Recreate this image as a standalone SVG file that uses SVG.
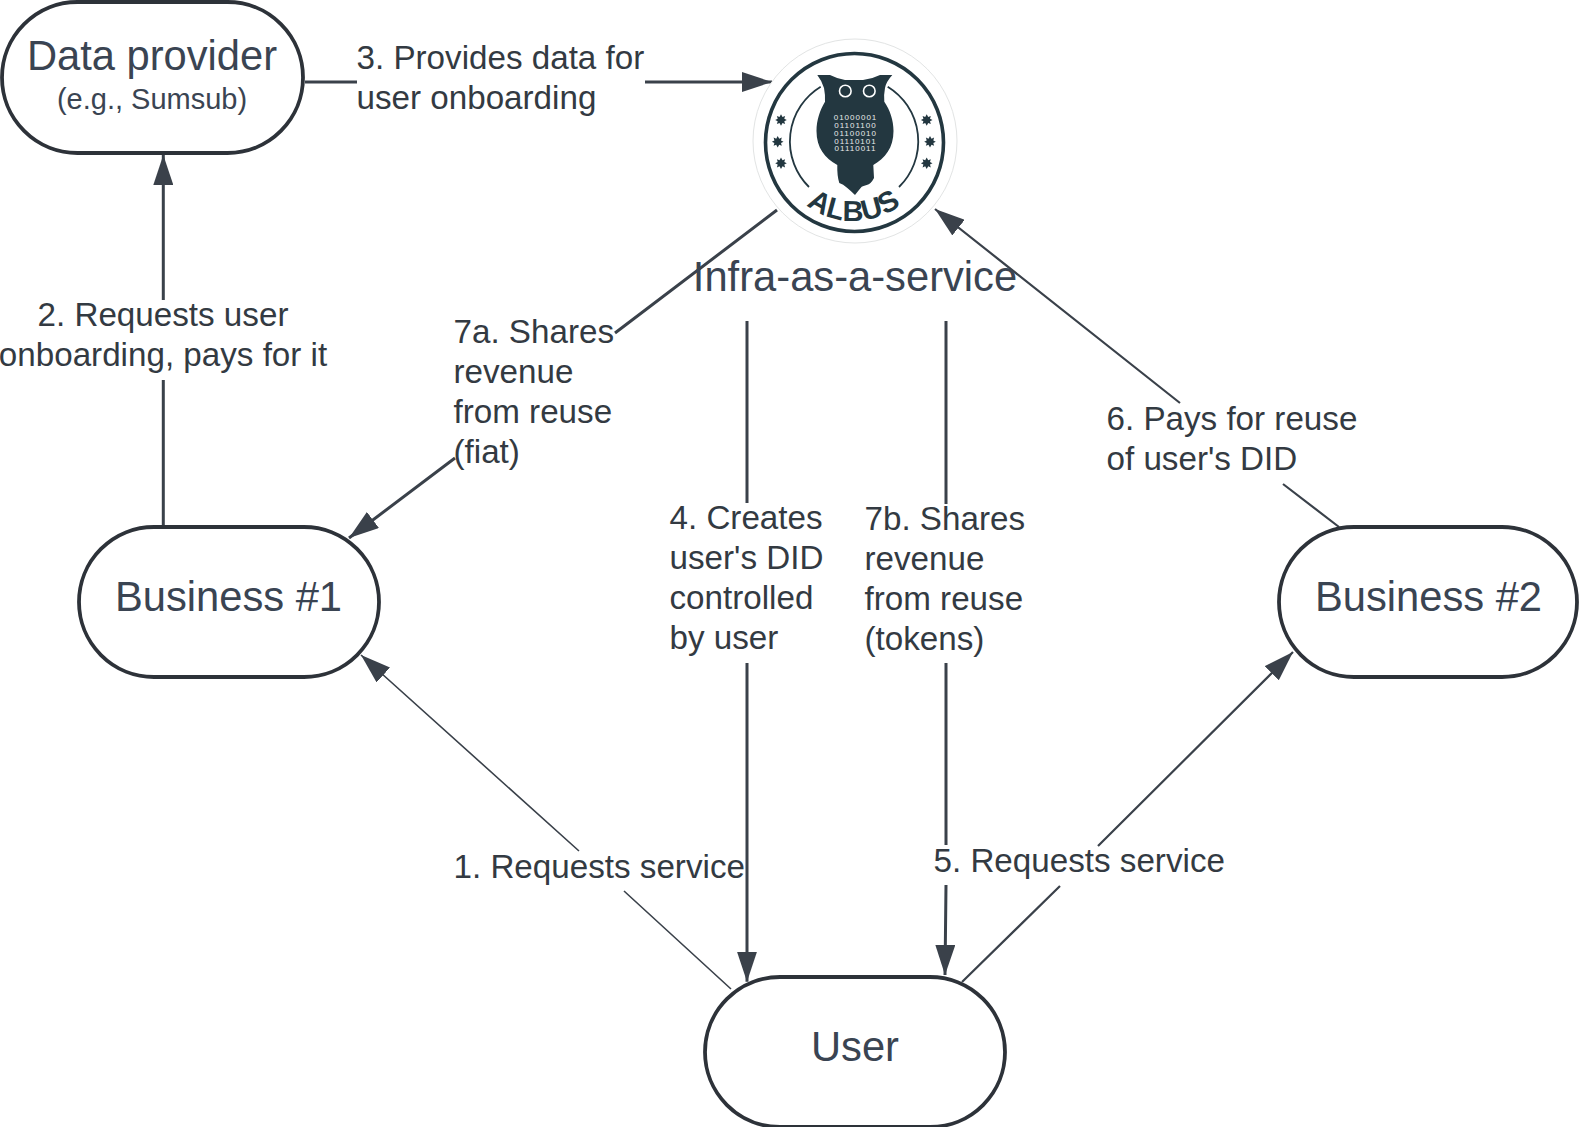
<svg xmlns="http://www.w3.org/2000/svg" width="1579" height="1127" viewBox="0 0 1579 1127">
<style>
text{font-family:"Liberation Sans",Arial,sans-serif;fill:#333a42}
.n{fill:#fff;stroke:#2d3239;stroke-width:3.8}
.t{font-size:41.7px;text-anchor:middle;fill:#3a4452}
.l{font-size:33.2px}
.c{fill:none;stroke:#3a414a;stroke-width:3;marker-end:url(#a)}
.f{fill:none;stroke:#3a414a;stroke-width:1.6;marker-end:url(#a)}
.g{fill:none;stroke:#3a414a;stroke-width:2.2;marker-end:url(#a)}
.lg{fill:#233740}
.bin{font-family:"Liberation Sans",Arial,sans-serif;font-size:8px;letter-spacing:1px;text-anchor:middle}
</style>
<defs>
<marker id="a" markerUnits="userSpaceOnUse" viewBox="0 0 30 20" refX="30" refY="10" markerWidth="30" markerHeight="20" orient="auto"><path d="M0 0L30 10L0 20Z" fill="#3a414a"/></marker>
<path id="s" d="M0-5.8L1.5-3 4.1-4.1 3.3-1.2 5.8 0 3.3 1.2 4.1 4.1 1.5 3 0 5.8-1.5 3-4.1 4.1-3.3 1.2-5.8 0-3.3-1.2-4.1-4.1-1.5-3Z" class="lg"/>
<path id="b" d="M780.7 169.7A78 78 0 0 0 927.3 169.7" fill="none"/>
</defs>
<rect width="1579" height="1127" fill="#fff"/>
<g id="connectors">
<path class="f" d="M731 989L624 891M579 851L361 655"/>
<path class="c" d="M163.3 527V380M163.3 300V155"/>
<path class="c" d="M305 82H357M645 82H772"/>
<path class="c" d="M747 321V503M747 663V981.7"/>
<path class="c" d="M946 321V504M946 663V845M946 885L945 975"/>
<path class="g" d="M962 982L1060 886M1098 846L1293 652"/>
<path class="g" d="M1339 527L1283 484M1180 403L935 209"/>
<path class="c" d="M777 210L615 333M455 458L349 538"/>
</g>
<g id="data-provider"><rect class="n" x="2" y="2" width="301" height="151" rx="75.5"/><text class="t" x="152" y="70">Data provider</text><text x="152" y="109" font-size="29" text-anchor="middle" style="fill:#3a4452">(e.g., Sumsub)</text></g>
<g id="business-1"><rect class="n" x="79" y="527" width="300" height="150" rx="75"/><text class="t" x="228.5" y="611">Business #1</text></g>
<g id="business-2"><rect class="n" x="1279" y="527" width="298" height="150" rx="75"/><text class="t" x="1428.5" y="611">Business #2</text></g>
<g id="user"><rect class="n" x="705" y="977" width="300" height="150" rx="75"/><text class="t" x="855" y="1061">User</text></g>
<g id="albus">
<circle cx="855" cy="141" r="102" fill="#fff" stroke="#e2e4e4" stroke-width="1"/>
<circle cx="854.5" cy="142.5" r="89" fill="none" stroke="#233740" stroke-width="3.6"/>
<path d="M820.7 86.7A64 64 0 0 0 809 187M887.7 86.7A64 64 0 0 1 899 187" fill="none" stroke="#233740" stroke-width="1.8"/>
<use href="#s" x="781" y="120"/><use href="#s" x="777.7" y="141.7"/><use href="#s" x="781" y="163.3"/><use href="#s" x="926.7" y="120"/><use href="#s" x="930" y="141.7"/><use href="#s" x="926.7" y="163.3"/>
<path class="lg" d="M817.3 75L830 75Q838 79 845 80H863Q872 79 880 75L892.3 75Q886 82 885 88Q883.500 96 884.300 101.700C890 110 893.500 120 893.500 131C893.500 148 885 158 873.300 165L874 178Q871 184 866.700 185Q863 186 861.700 186.700Q858 191 855 195Q851 191 847.300 188Q843 184 839.300 183Q837 176 837.300 165C825 158 816.500 148 816.500 131C816.500 120 820 110 825 101.700Q825.500 96 824 88Q822 81 817.300 75Z"/>
<circle cx="845.3" cy="91" r="5.8" class="lg" stroke="#fff" stroke-width="1.6"/><circle cx="869.3" cy="91" r="5.8" class="lg" stroke="#fff" stroke-width="1.6"/>
<text class="bin" x="855.5" y="119.7" style="fill:#e8eaea">01000001</text><text class="bin" x="855.5" y="127.7" style="fill:#e8eaea">01101100</text><text class="bin" x="855.5" y="135.7" style="fill:#e8eaea">01100010</text><text class="bin" x="855.5" y="143.7" style="fill:#e8eaea">01110101</text><text class="bin" x="855.5" y="151.3" style="fill:#e8eaea">01110011</text>
<text style="font-size:29px;font-weight:bold;letter-spacing:.5px;fill:#233740;text-anchor:middle"><textPath href="#b" startOffset="50%">ALBUS</textPath></text>
</g>
<g id="labels">
<text class="t" x="855" y="291">Infra-as-a-service</text>
<text class="l" x="356.500" y="69">3. Provides data for</text><text class="l" x="356.500" y="109">user onboarding</text>
<text class="l" x="163" y="326" text-anchor="middle">2. Requests user</text><text class="l" x="163" y="366" text-anchor="middle">onboarding, pays for it</text>
<text class="l" x="453.500" y="343">7a. Shares</text><text class="l" x="453.500" y="383">revenue</text><text class="l" x="453.500" y="423">from reuse</text><text class="l" x="453.500" y="462.500">(fiat)</text>
<text class="l" x="669.500" y="529">4. Creates</text><text class="l" x="669.500" y="569">user's DID</text><text class="l" x="669.500" y="609">controlled</text><text class="l" x="669.500" y="649">by user</text>
<text class="l" x="864.500" y="530">7b. Shares</text><text class="l" x="864.500" y="570">revenue</text><text class="l" x="864.500" y="610">from reuse</text><text class="l" x="864.500" y="650">(tokens)</text>
<text class="l" x="1106.500" y="430">6. Pays for reuse</text><text class="l" x="1106.500" y="470">of user's DID</text>
<text class="l" x="453.500" y="878">1. Requests service</text>
<text class="l" x="933.500" y="872">5. Requests service</text>
</g>
</svg>
